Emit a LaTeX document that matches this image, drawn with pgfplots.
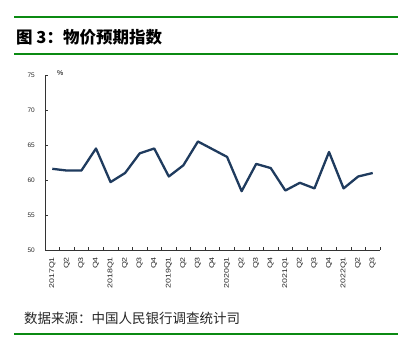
\documentclass[border=0pt]{standalone}
\usepackage{pgfplots}
\pgfplotsset{compat=1.18}
\usepackage{fontspec}
\setmainfont{Liberation Sans}
\newfontfamily\cjk{Noto Sans CJK SC}
\definecolor{navy}{HTML}{1F3B5E}
\definecolor{grn}{HTML}{0B8A12}
\newcommand\lbl[1]{\scalebox{1.3}[1]{#1}}
\begin{document}
\begin{tikzpicture}[x=1pt,y=1pt]
\useasboundingbox (0,0) rectangle (411,352);
\draw[grn, line width=1.6] (14,335) -- (398,335);
\draw[grn, line width=1.6] (14,298) -- (398,298);
\draw[grn, line width=1.6] (14,18) -- (398,18);
\node[anchor=west, inner sep=0pt, font=\cjk\bfseries\fontsize{16.5}{16.5}\selectfont] at (16,315) {图 3：物价预期指数};
\node[anchor=west, inner sep=0pt, text=black!85, font=\cjk\fontsize{13.5}{13.5}\selectfont] at (24,34) {数据来源：中国人民银行调查统计司};
\node[anchor=west, inner sep=0pt, font=\fontsize{7}{7}\selectfont] at (57,279) {\%};
\begin{axis}[
  at={(45pt,102pt)}, anchor=south west,
  scale only axis, width=335pt, height=175pt,
  axis lines*=left,
  axis line style={black!80, line width=0.7pt},
  xmin=-0.5, xmax=22.5, ymin=50, ymax=75,
  ytick={50,55,...,75},
  tick align=inside,
  major tick length=3pt,
  tick style={black!80, line width=0.6pt},
  xtick={-0.5,0.5,...,22.5},
  x tick label as interval=true,
  xticklabels={\lbl{2017Q1},\lbl{Q2},\lbl{Q3},\lbl{Q4},\lbl{2018Q1},\lbl{Q2},\lbl{Q3},\lbl{Q4},\lbl{2019Q1},\lbl{Q2},\lbl{Q3},\lbl{Q4},\lbl{2020Q1},\lbl{Q2},\lbl{Q3},\lbl{Q4},\lbl{2021Q1},\lbl{Q2},\lbl{Q3},\lbl{Q4},\lbl{2022Q1},\lbl{Q2},\lbl{Q3}},
  xticklabel style={rotate=90, anchor=east, inner sep=0pt, font=\fontsize{6.8}{6.8}\selectfont, text=black!85},
  xticklabel shift=7pt,
  yticklabel style={font=\fontsize{6.5}{6.5}\selectfont, text=black!85, inner sep=0pt},
  yticklabel shift=10pt,
  /pgf/number format/assume math mode=true,
  clip=false,
]
\addplot[navy, line width=2.3pt, line join=round] coordinates {
(0,61.6) (1,61.35) (2,61.35) (3,64.5) (4,59.7) (5,61.0) (6,63.8) (7,64.5)
(8,60.5) (9,62.1) (10,65.5) (11,64.4) (12,63.3) (13,58.4) (14,62.3) (15,61.7)
(16,58.5) (17,59.6) (18,58.8) (19,64.0) (20,58.8) (21,60.5) (22,61.0)
};
\end{axis}
\end{tikzpicture}
\end{document}
